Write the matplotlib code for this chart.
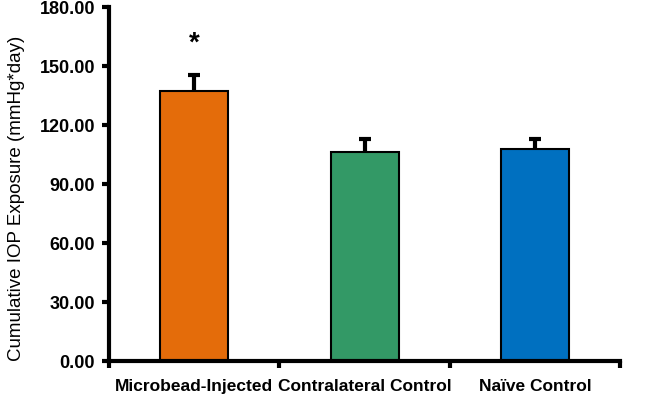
import matplotlib
matplotlib.use("Agg")
import matplotlib.pyplot as plt

categories = ["Microbead-Injected", "Contralateral Control", "Naïve Control"]
means = [137.3, 106.2, 107.9]
errors = [8.1, 7.0, 4.8]
colors = ["#E46C0A", "#339966", "#0070C0"]
yticks = [0, 30, 60, 90, 120, 150, 180]

plt.rcParams["font.family"] = ["Liberation Sans", "DejaVu Sans"]

fig = plt.figure(figsize=(6.69, 3.96), dpi=100)
ax = fig.add_axes([0.163, 0.088, 0.764, 0.894])

x = list(range(len(categories)))
ax.bar(x, means, width=0.4, color=colors, edgecolor="black", linewidth=1.5, zorder=2)
eb = ax.errorbar(x, means, yerr=[[0] * 3, errors], fmt="none", ecolor="black",
                 elinewidth=3, capsize=4, capthick=3, zorder=1)
eb[1][0].set_visible(False)  # keep only the upper cap
ax.text(0, 155, "*", ha="center", va="bottom", fontsize=20, fontweight="bold")

ax.set_xlim(-0.5, 2.5)
ax.set_ylim(0, 180)
ax.set_yticks(yticks)
ax.set_yticklabels([f"{v:.2f}" for v in yticks], fontsize=13, fontweight="bold")
ax.set_xticks(x)
ax.set_xticklabels(categories, fontsize=12.5, fontweight="bold")
ax.tick_params(axis="x", which="major", length=0, pad=13)
ax.set_xticks([-0.5, 0.5, 1.5, 2.5], minor=True)
ax.tick_params(axis="x", which="minor", length=5, width=3, direction="out")
ax.tick_params(axis="y", length=5, width=3, direction="out", pad=5)
ax.set_ylabel("Cumulative IOP Exposure (mmHg*day)", fontsize=13.5)
ax.yaxis.set_label_coords(-0.165, 0.46)

for side in ["top", "right"]:
    ax.spines[side].set_visible(False)
for side in ["left", "bottom"]:
    ax.spines[side].set_linewidth(3)

fig.savefig("out.png", dpi=100)
